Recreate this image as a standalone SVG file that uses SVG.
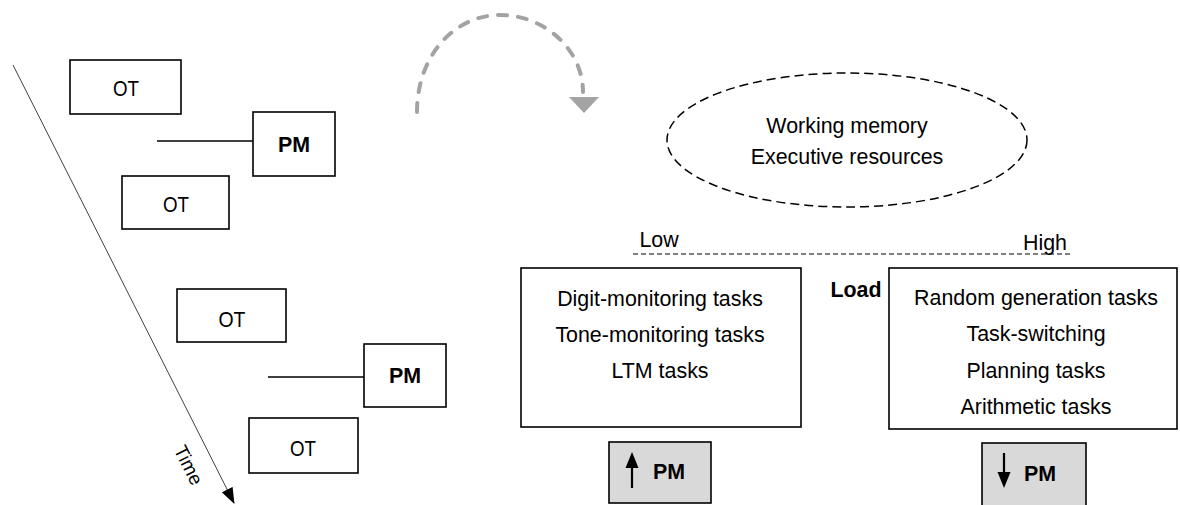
<svg xmlns="http://www.w3.org/2000/svg" width="1180" height="505" viewBox="0 0 1180 505">
<defs>
<style>
.t{font-family:"Liberation Sans",Arial,sans-serif;font-size:21.4px;fill:#000;text-anchor:middle}
.b{font-weight:bold}
.box{fill:#fff;stroke:#000;stroke-width:1.6}
.gbox{fill:#d9d9d9;stroke:#000;stroke-width:1.6}
.ln{stroke:#000;stroke-width:1.4;fill:none}
</style>
<marker id="timeHead" markerWidth="16" markerHeight="12" refX="15" refY="6" orient="auto" markerUnits="userSpaceOnUse">
<path d="M0,0 L16,6 L0,12 Z" fill="#000"/>
</marker>
</defs>
<rect width="1180" height="505" fill="#fff"/>

<g id="connectors">
<line x1="13" y1="65" x2="234" y2="503" stroke="#404040" stroke-width="1" marker-end="url(#timeHead)"/>
<line class="ln" x1="157" y1="141" x2="253" y2="141"/>
<line class="ln" x1="268" y1="377" x2="364" y2="377"/>
<path d="M417,112 C417,55 455,15 500,15 C545,15 583,50 583,92" fill="none" stroke="#a3a3a3" stroke-width="4" stroke-linecap="round" stroke-dasharray="9 11"/>
<polygon points="569,97 599,97 584,113" fill="#a3a3a3"/>
<line x1="633" y1="254" x2="1070" y2="254" stroke="#000" stroke-width="1" stroke-dasharray="5 3"/>
</g>

<g id="time-label">
<text class="t" style="font-size:19px" transform="translate(189,465) rotate(63.3)" dy="7">Time</text>
</g>

<g id="ot1"><rect class="box" x="70" y="60" width="111" height="54"/><text class="t" style="font-size:22.5px" x="126" y="96" textLength="26" lengthAdjust="spacingAndGlyphs">OT</text></g>
<g id="pm1"><rect class="box" x="253" y="112" width="82" height="64"/><text class="t b" x="294" y="152">PM</text></g>
<g id="ot2"><rect class="box" x="122" y="176" width="107" height="53"/><text class="t" style="font-size:22.5px" x="176" y="212" textLength="26" lengthAdjust="spacingAndGlyphs">OT</text></g>
<g id="ot3"><rect class="box" x="177" y="289" width="109" height="53"/><text class="t" style="font-size:22.5px" x="232" y="327" textLength="27" lengthAdjust="spacingAndGlyphs">OT</text></g>
<g id="pm2"><rect class="box" x="364" y="344" width="82" height="63"/><text class="t b" x="405" y="383">PM</text></g>
<g id="ot4"><rect class="box" x="249" y="418" width="109" height="55"/><text class="t" style="font-size:22.5px" x="303" y="456" textLength="26" lengthAdjust="spacingAndGlyphs">OT</text></g>

<g id="working-memory">
<ellipse cx="847" cy="140" rx="180" ry="67" fill="none" stroke="#000" stroke-width="1.5" stroke-dasharray="9 5"/>
<text class="t" x="847" y="133">Working memory</text>
<text class="t" x="847" y="164">Executive resources</text>
</g>

<g id="scale-labels">
<text class="t" x="659" y="247">Low</text>
<text class="t" x="1045" y="250">High</text>
<text class="t b" x="856" y="297">Load</text>
</g>

<g id="low-load-tasks">
<rect class="box" x="521" y="268" width="280" height="159"/>
<text class="t" x="660" y="306">Digit-monitoring tasks</text>
<text class="t" x="660" y="342">Tone-monitoring tasks</text>
<text class="t" x="660" y="378">LTM tasks</text>
</g>

<g id="high-load-tasks">
<rect class="box" x="889" y="268" width="288" height="161"/>
<text class="t" x="1036" y="305">Random generation tasks</text>
<text class="t" x="1036" y="341">Task-switching</text>
<text class="t" x="1036" y="378">Planning tasks</text>
<text class="t" x="1036" y="414">Arithmetic tasks</text>
</g>

<g id="pm-up">
<rect class="gbox" x="609" y="442" width="102" height="61"/>
<line x1="632" y1="465" x2="632" y2="488" stroke="#000" stroke-width="2.2"/>
<polygon points="632,452 625.5,468 638.5,468" fill="#000"/>
<text class="t b" x="669" y="479">PM</text>
</g>

<g id="pm-down">
<rect class="gbox" x="982" y="443" width="104" height="70"/>
<line x1="1004" y1="453" x2="1004" y2="475" stroke="#000" stroke-width="2.2"/>
<polygon points="1004,488 997.5,472 1010.5,472" fill="#000"/>
<text class="t b" x="1040" y="481">PM</text>
</g>
</svg>
